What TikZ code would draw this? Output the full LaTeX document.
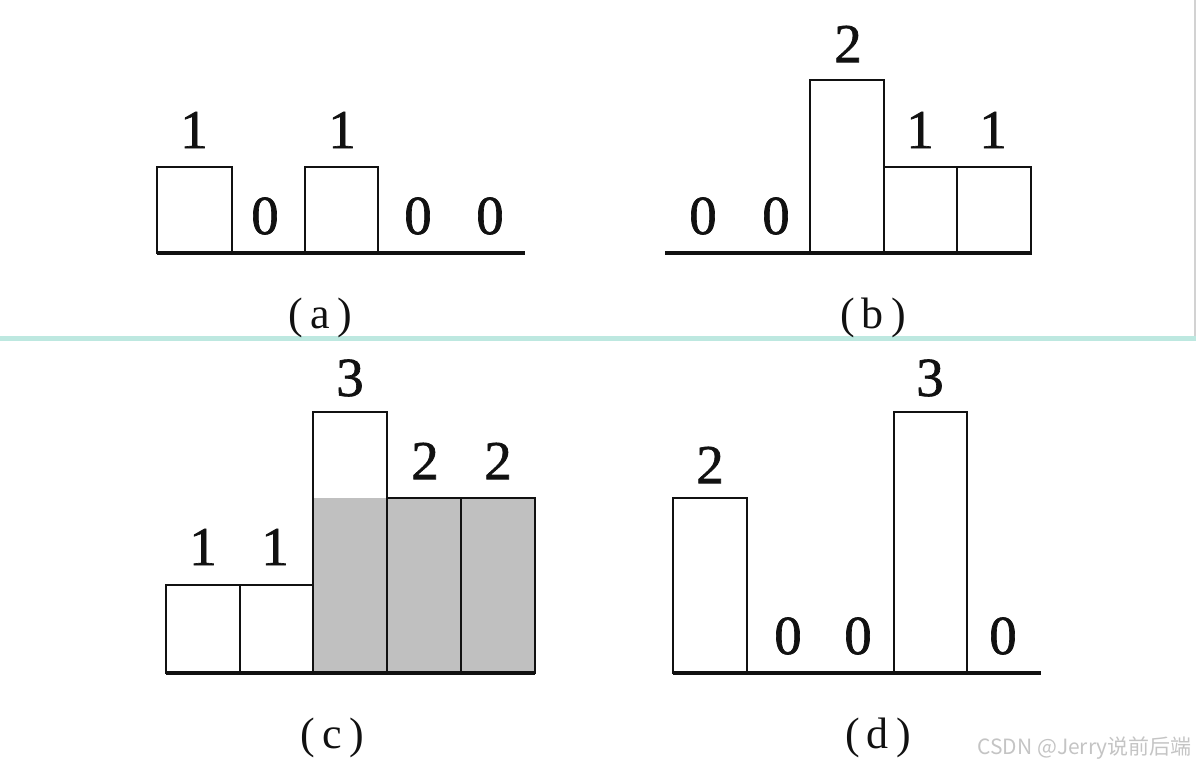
\documentclass[tikz,border=0pt]{standalone}
\usepackage{fontspec}
\setmainfont{Liberation Serif}
\newfontfamily\numfont[FakeBold=1.2]{Liberation Serif}
\newfontfamily\cjk{Noto Sans CJK SC}
\usepackage{xcolor}
\usepackage{tikz}
\usetikzlibrary{positioning}
\definecolor{BarInk}{HTML}{111111}
\definecolor{BarShade}{HTML}{C0C0C0}
\definecolor{RuleTeal}{HTML}{BDE8E0}
\definecolor{EdgeGrey}{HTML}{D2D2D2}
\definecolor{MarkGrey}{HTML}{C4C4C4}

\begin{document}
\begin{tikzpicture}[x=1pt,y=1pt]
  \path[use as bounding box] (0,0) rectangle (1196,769);
  \tikzset{
    histBar/.style={draw=BarInk, line width=2.8pt, fill=white},
    histShade/.style={histBar, fill=BarShade},
    histBase/.style={draw=BarInk, line width=3.2pt},
    histNum/.style={font=\numfont\fontsize{55}{55}\selectfont, text=BarInk, inner sep=0pt},
    histCap/.style={font=\fontsize{44}{44}\selectfont, text=BarInk, inner sep=0pt}
  }

  % page frame
  \fill[EdgeGrey] (1193.5,433) rectangle (1196,769);
  \fill[RuleTeal] (0,428) rectangle (1196,433);

  % (a)
  \draw[histBar] (157,516) rectangle (232,602);
  \draw[histBar] (305,516) rectangle (378,602);
  \draw[histBase] (157,516) -- (525,516);
  \node[histNum] (a1) at (194,639) {1};
  \node[histNum] (a2) at (265,553) {0};
  \node[histNum] (a3) at (342,639) {1};
  \node[histNum] (a4) at (418,553) {0};
  \node[histNum] (a5) at (490,553) {0};
  \node[histCap] (capA) at (320,451) {(\,a\,)};

  % (b)
  \draw[histBar] (810,516) rectangle (884,689);
  \draw[histBar] (884,516) rectangle (957,602);
  \draw[histBar] (957,516) rectangle (1031,602);
  \draw[histBase] (665,516) -- (1032,516);
  \node[histNum] (b1) at (703,553) {0};
  \node[histNum] (b2) at (776,553) {0};
  \node[histNum] (b3) at (848,725) {2};
  \node[histNum] (b4) at (920,639) {1};
  \node[histNum] (b5) at (993,639) {1};
  \node[histCap] (capB) at (873,451) {(\,b\,)};

  % (c)
  \draw[histBar] (166,96) rectangle (240,184);
  \draw[histBar] (240,96) rectangle (313,184);
  \draw[histBar] (313,96) rectangle (387,357);
  \fill[BarShade] (314.4,97.4) rectangle (385.6,271);
  \draw[histShade] (387,96) rectangle (461,271);
  \draw[histShade] (461,96) rectangle (535,271);
  \draw[histBase] (166,96) -- (535,96);
  \node[histNum] (c1) at (203,222) {1};
  \node[histNum] (c2) at (275,222) {1};
  \node[histNum] (c3) at (350,391) {3};
  \node[histNum] (c4) at (425,308) {2};
  \node[histNum] (c5) at (498,308) {2};
  \node[histCap] (capC) at (332,31) {(\,c\,)};

  % (d)
  \draw[histBar] (673,96) rectangle (747,271);
  \draw[histBar] (894,96) rectangle (967,357);
  \draw[histBase] (673,96) -- (1041,96);
  \node[histNum] (d1) at (710,304) {2};
  \node[histNum] (d2) at (788,133) {0};
  \node[histNum] (d3) at (858,133) {0};
  \node[histNum] (d4) at (930,391) {3};
  \node[histNum] (d5) at (1003,133) {0};
  \node[histCap] (capD) at (878,31) {(\,d\,)};

  \node[font=\cjk\fontsize{21}{21}\selectfont, text=MarkGrey, anchor=east, inner sep=0pt]
    (mark) at (1192,21) {CSDN @Jerry说前后端};
\end{tikzpicture}
\end{document}
